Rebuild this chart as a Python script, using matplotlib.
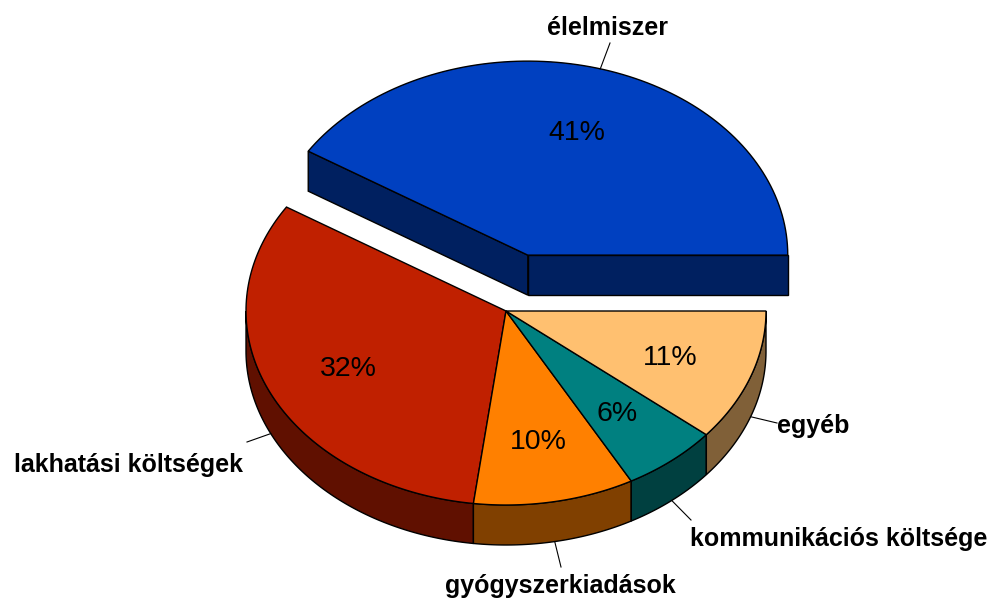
import numpy as np
import matplotlib.pyplot as plt
from matplotlib.patches import Polygon
from matplotlib.colors import to_rgb

labels = ['élelmiszer', 'lakhatási költségek', 'gyógyszerkiadások',
          'kommunikációs költsége', 'egyéb']
shares = [41, 32, 10, 6, 11]
colors = ['#0040C0', '#C02000', '#FF8000', '#008080', '#FFC070']
explode = [0.3, 0, 0, 0, 0]

# layout (pixel space)
CX, CY = 506, 311
RX, RY = 260, 194
DEPTH = 40
label_pos = [(608, 35, 'center'), (243, 472, 'right'), (560, 593, 'center'),
             (690, 546, 'left'), (777, 433, 'left')]
leader_end = [(610, 43), (247, 442), (561, 567), (691, 520), (777, 423)]

plt.rcParams['font.family'] = ['Liberation Sans', 'DejaVu Sans']

fig = plt.figure(figsize=(9.94, 6.02), dpi=100)
ax = fig.add_axes([0, 0, 1, 1])
ax.set_xlim(0, 994)
ax.set_ylim(602, 0)
ax.axis('off')


def arc(cx, cy, a1, a2, dz=0, n=100):
    t = np.linspace(a1, a2, n)
    return np.column_stack([cx + RX * np.cos(t), cy - RY * np.sin(t) + dz])


def dark(c):
    return tuple(v * 0.5 for v in to_rgb(c))


total = float(sum(shares))
bounds = np.concatenate([[0], np.cumsum(shares)]) / total * 2 * np.pi

slices = []
for i in range(len(shares)):
    a1, a2 = bounds[i], bounds[i + 1]
    mid = (a1 + a2) / 2
    cx = CX + explode[i] * RX * np.cos(mid)
    cy = CY - explode[i] * RY * np.sin(mid)
    slices.append((i, a1, a2, mid, cx, cy))

# exploded slices are behind, draw them first
order = [s for s in slices if explode[s[0]] > 0] + [s for s in slices if explode[s[0]] == 0]
for group in (order[:1], order[1:]):
    for i, a1, a2, mid, cx, cy in group:
        kw = dict(facecolor=dark(colors[i]), edgecolor='black', lw=1.0)
        if explode[i] > 0:
            for a, vis in ((a1, np.cos(a1) > 0), (a2, np.cos(a2) < 0)):
                if vis:
                    ex, ey = cx + RX * np.cos(a), cy - RY * np.sin(a)
                    ax.add_patch(Polygon([(cx, cy), (ex, ey), (ex, ey + DEPTH),
                                          (cx, cy + DEPTH)], **kw))
        lo, hi = max(a1, np.pi), min(a2, 2 * np.pi)
        if hi > lo:
            top = arc(cx, cy, lo, hi)
            bot = arc(cx, cy, lo, hi, DEPTH)[::-1]
            ax.add_patch(Polygon(np.vstack([top, bot]), **kw))
    for i, a1, a2, mid, cx, cy in group:
        pts = np.vstack([[(cx, cy)], arc(cx, cy, a1, a2)])
        ax.add_patch(Polygon(pts, facecolor=colors[i], edgecolor='black', lw=1.0))

for i, a1, a2, mid, cx, cy in slices:
    # percentage inside the slice
    ax.text(cx + 0.67 * RX * np.cos(mid), cy - 0.67 * RY * np.sin(mid),
            '%d%%' % shares[i], ha='center', va='center_baseline', fontsize=20.5,
            color='black')
    # leader line from the slice edge
    sx, sy = cx + RX * np.cos(mid), cy - RY * np.sin(mid)
    if np.sin(mid) < 0:
        sy += DEPTH
    ex, ey = leader_end[i]
    ax.plot([sx, ex], [sy, ey], color='black', lw=0.8)
    x, y, ha = label_pos[i]
    ax.text(x, y, labels[i], ha=ha, va='baseline', fontsize=18,
            fontweight='bold', color='black')

fig.savefig('out.png', dpi=100)
